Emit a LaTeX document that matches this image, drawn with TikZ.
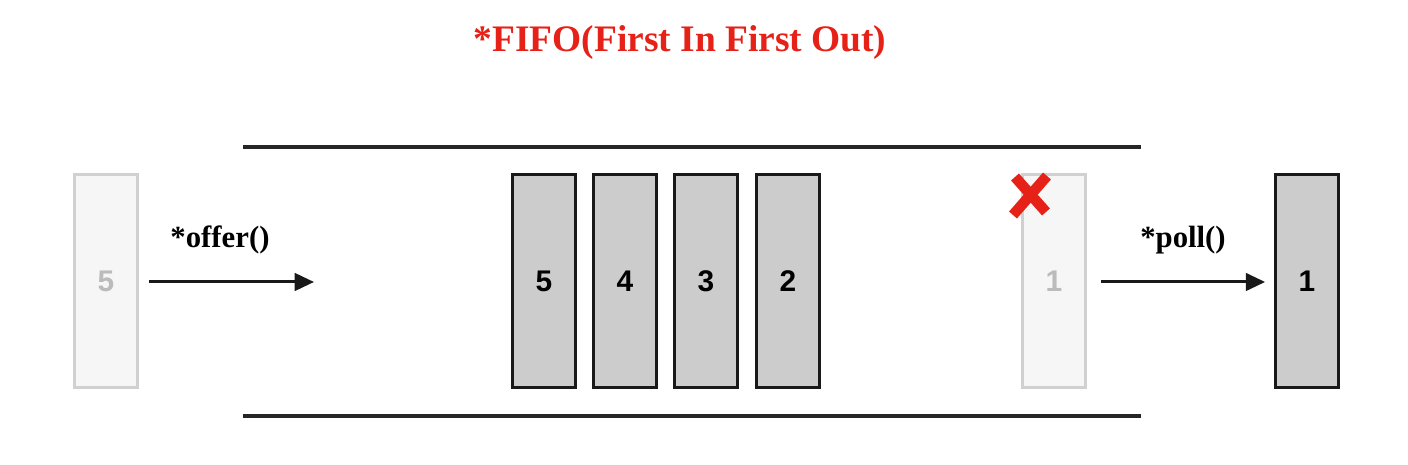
\documentclass[tikz,border=0pt]{standalone}
\usepackage{fontspec}
\setmainfont{Liberation Serif}
\newfontfamily\numfont{Liberation Sans}
\usepackage{tikz}
\usetikzlibrary{arrows.meta, positioning}
\definecolor{fifored}{HTML}{E62117}
\definecolor{cellgray}{HTML}{CCCCCC}
\definecolor{ghostfill}{HTML}{F6F6F6}
\definecolor{ghostline}{HTML}{D0D0D0}
\definecolor{ghosttext}{HTML}{BBBBBB}

\begin{document}
\begin{tikzpicture}[scale=1]
    % Define styles
    \tikzstyle{cell}=[draw=black!90, fill=cellgray, line width=1.6pt, minimum width=1.26cm, minimum height=4.26cm, inner sep=0pt, font=\numfont\fontsize{17}{19}\selectfont\bfseries]
    \tikzstyle{ghost}=[cell, draw=ghostline, fill=ghostfill, text=ghosttext]
    \tikzstyle{wall}=[line width=2.4pt, color=black!85]
    \tikzstyle{move}=[line width=1.7pt, color=black!90, -{Triangle[length=11pt, width=10pt]}]
    \tikzstyle{label_text}=[font=\fontsize{17.5}{20}\selectfont\bfseries]

    \useasboundingbox (0,0) rectangle (28.16,9.3);

    % --- 1. Title ---
    \node[font=\fontsize{21.3}{24}\selectfont\bfseries, text=fifored] (title) at (13.6, 8.44) {*FIFO(First In First Out)};

    % --- 2. The Queue (walls) ---
    \draw[wall] (4.86, 6.36) -- (22.82, 6.36);
    \draw[wall] (4.86, 0.98) -- (22.82, 0.98);

    % --- 3. Elements ---
    \node[ghost] (in5) at (2.12, 3.68) {5};
    \node[cell] (q5) at (10.88, 3.68) {5};
    \node[cell] (q4) at (12.50, 3.68) {4};
    \node[cell] (q3) at (14.12, 3.68) {3};
    \node[cell] (q2) at (15.76, 3.68) {2};
    \node[ghost] (q1) at (21.08, 3.68) {1};
    \node[cell] (out1) at (26.14, 3.68) {1};

    % removed mark
    \draw[fifored, line width=6pt] (20.26, 5.00) -- (20.94, 5.78);
    \draw[fifored, line width=6pt] (20.30, 5.76) -- (20.92, 5.06);

    % --- 4. Operations ---
    \coordinate (offerend) at (6.28, 3.66);
    \draw[move, shorten <=0.2cm] (in5.east |- offerend) -- (offerend);
    \node[label_text] (offer) at (4.4, 4.5) {*offer()};

    \draw[move, shorten <=0.28cm, shorten >=0.18cm] (q1.east |- offerend) -- (out1.west |- offerend);
    \node[label_text] (poll) at (23.66, 4.5) {*poll()};

\end{tikzpicture}
\end{document}
